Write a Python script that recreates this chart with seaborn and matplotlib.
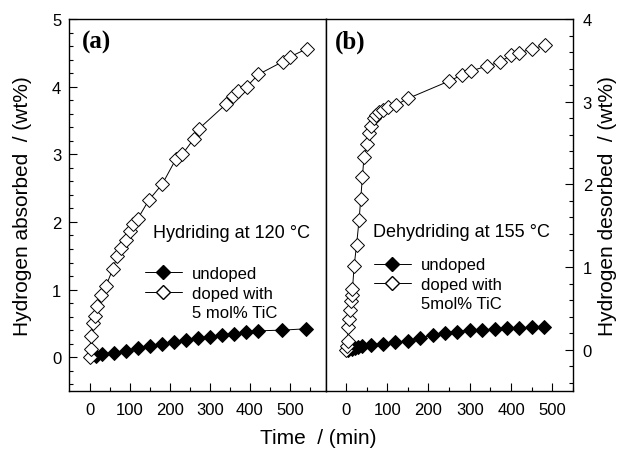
import matplotlib
matplotlib.use("Agg")
import matplotlib.pyplot as plt
from matplotlib.ticker import MultipleLocator, FixedLocator
from matplotlib.lines import Line2D
import seaborn as sns

# (a) hydriding at 120 C
abs_undoped_t = [15, 30, 60, 90, 120, 150, 180, 210, 240, 270, 300, 330, 360, 390, 420, 480, 540]
abs_undoped_h = [0.02, 0.04, 0.06, 0.09, 0.13, 0.17, 0.20, 0.23, 0.26, 0.28, 0.30, 0.33, 0.35, 0.38,
                 0.39, 0.40, 0.42]
abs_doped_t = [0, 2, 4, 8, 12, 18, 29, 40, 57, 68, 77, 89, 100, 108, 120, 147, 181, 215, 231, 260,
               273, 340, 358, 371, 392, 421, 482, 500, 542]
abs_doped_h = [0, 0.12, 0.31, 0.51, 0.61, 0.75, 0.92, 1.05, 1.30, 1.49, 1.61, 1.74, 1.87, 1.97, 2.05,
               2.32, 2.56, 2.93, 3.00, 3.23, 3.38, 3.74, 3.86, 3.94, 4.00, 4.18, 4.37, 4.44, 4.56]

# (b) dehydriding at 155 C
des_undoped_t = [5, 14, 22, 30, 40, 60, 90, 120, 150, 180, 210, 240, 270, 300, 330, 360, 390, 420, 450, 480]
des_undoped_h = [0, 0.01, 0.02, 0.03, 0.04, 0.06, 0.07, 0.09, 0.11, 0.14, 0.18, 0.20, 0.22, 0.24,
                 0.24, 0.25, 0.26, 0.26, 0.27, 0.27]
des_doped_t = [0, 2, 4, 6, 8, 10, 12, 14, 16, 20, 26, 32, 36, 40, 44, 50, 56, 61, 68, 74, 81, 89,
               101, 121, 151, 250, 280, 302, 341, 373, 399, 420, 450, 482]
des_doped_h = [0, 0.05, 0.10, 0.27, 0.37, 0.48, 0.59, 0.66, 0.73, 1.01, 1.27, 1.57, 1.82, 2.09, 2.33,
               2.49, 2.62, 2.71, 2.80, 2.84, 2.87, 2.90, 2.93, 2.96, 3.04, 3.25, 3.32, 3.37, 3.43,
               3.48, 3.56, 3.59, 3.64, 3.68]

minor_x = [50, 150, 250, 350, 450, 550]

sns.set_style("ticks")
plt.rcParams["font.family"] = ["Liberation Sans", "DejaVu Sans"]
plt.rcParams.update({"axes.linewidth": 1.0, "text.color": "black", "axes.labelcolor": "black",
                     "xtick.color": "black", "ytick.color": "black"})

MS = 7.5
LW = 0.7

fig = plt.figure(figsize=(6.3, 4.52), dpi=100)
ax1 = fig.add_axes([0.1103, 0.1327, 0.4071, 0.823])
ax2 = fig.add_axes([0.5175, 0.1327, 0.3921, 0.823])


def draw(ax, t, h, face):
    sns.lineplot(x=t, y=h, ax=ax, color="black", lw=LW, marker="D", markersize=MS,
                 markerfacecolor=face, markeredgecolor="black", markeredgewidth=0.7,
                 estimator=None, sort=False)


draw(ax1, abs_undoped_t, abs_undoped_h, "black")
draw(ax1, abs_doped_t, abs_doped_h, "white")
draw(ax2, des_undoped_t, des_undoped_h, "black")
draw(ax2, des_doped_t, des_doped_h, "white")

ax1.set_xlim(-51, 590)
ax1.set_ylim(-0.5, 5)
ax2.set_xlim(-48, 550)
ax2.set_ylim(-0.5, 4)

for ax in (ax1, ax2):
    for s in ax.spines.values():
        s.set_visible(True)
        s.set_color("black")
    ax.xaxis.set_major_locator(MultipleLocator(100))
    ax.xaxis.set_minor_locator(FixedLocator(minor_x))
    ax.yaxis.set_major_locator(MultipleLocator(1))
    ax.yaxis.set_minor_locator(MultipleLocator(0.2))
    ax.tick_params(which="both", direction="in", width=0.8, labelsize=12, color="black",
                   labelcolor="black")
    ax.tick_params(which="major", length=5.5)
    ax.tick_params(which="minor", length=3)
    ax.tick_params(axis="x", which="both", top=False, pad=8)
    ax.set_xlabel("")
    ax.set_ylabel("")

ax1.tick_params(axis="y", which="both", left=True, right=False, pad=6)
ax2.tick_params(axis="y", which="both", left=False, right=True, labelleft=False,
                labelright=True, pad=7)

ax1.set_ylabel("Hydrogen absorbed  / (wt%)", fontsize=15, labelpad=14)
ax2.yaxis.set_label_position("right")
ax2.set_ylabel("Hydrogen desorbed  / (wt%)", fontsize=15, rotation=90, labelpad=4)
fig.text(0.505, 0.03, "Time  / (min)", fontsize=15, ha="center", va="center")

ax1.text(0.05, 0.94, "(a)", transform=ax1.transAxes, fontsize=18, fontweight="bold",
         family="Liberation Serif", va="center")
ax2.text(0.035, 0.94, "(b)", transform=ax2.transAxes, fontsize=18, fontweight="bold",
         family="Liberation Serif", va="center")

ax1.text(0.325, 0.427, "Hydriding at 120 °C", transform=ax1.transAxes, fontsize=13, va="center")
ax2.text(0.19, 0.429, "Dehydriding at 155 °C", transform=ax2.transAxes, fontsize=13, va="center")

h_und = Line2D([], [], color="black", lw=LW, marker="D", ms=MS, mfc="black", mec="black")
h_dop = Line2D([], [], color="black", lw=LW, marker="D", ms=MS, mfc="white", mec="black")
h_none = Line2D([], [], color="none")

ax1.legend([h_und, h_dop, h_none], ["undoped", "doped with", "5 mol% TiC"], loc="upper left",
           bbox_to_anchor=(0.294, 0.336), frameon=False, fontsize=12, borderpad=0,
           borderaxespad=0, handlelength=2.2, handletextpad=0.6, labelspacing=0.27)
ax2.legend([h_und, h_dop, h_none], ["undoped", "doped with", "5mol% TiC"], loc="upper left",
           bbox_to_anchor=(0.194, 0.359), frameon=False, fontsize=12, borderpad=0,
           borderaxespad=0, handlelength=2.2, handletextpad=0.6, labelspacing=0.27)

fig.savefig("out.png", dpi=100)
